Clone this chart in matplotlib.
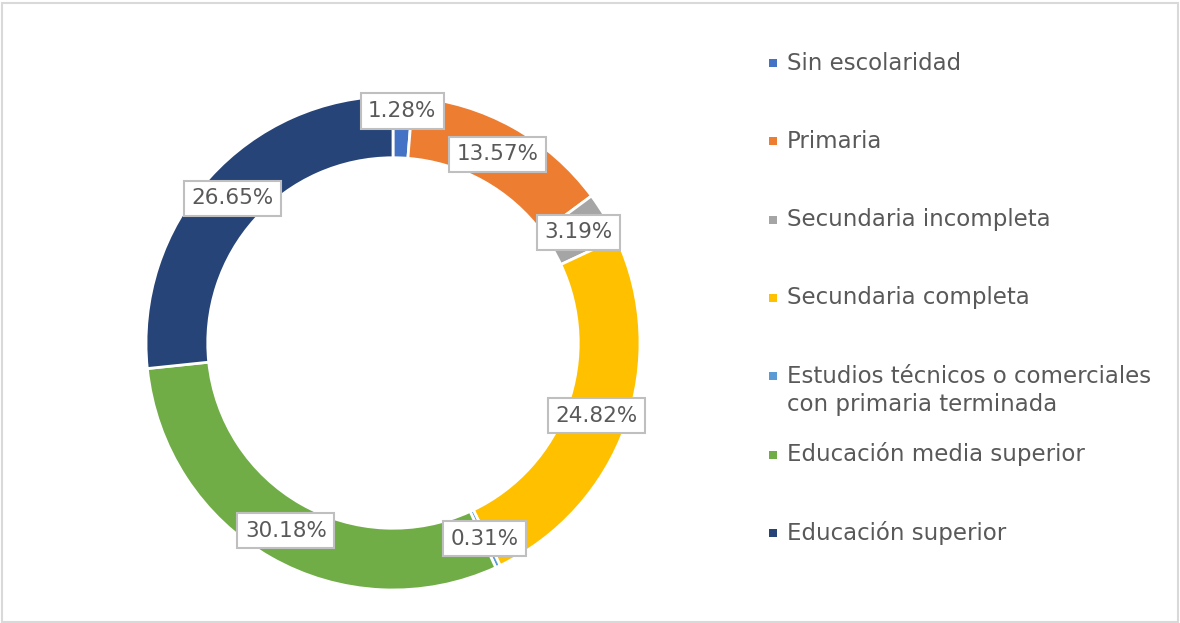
import numpy as np
import matplotlib.pyplot as plt
from matplotlib.patches import Rectangle

# data
categories = ['Sin escolaridad', 'Primaria', 'Secundaria incompleta',
              'Secundaria completa',
              'Estudios técnicos o comerciales\ncon primaria terminada',
              'Educación media superior', 'Educación superior']
values = [1.28, 13.57, 3.19, 24.82, 0.31, 30.18, 26.65]
colors = ['#4472C4', '#ED7D31', '#A5A5A5', '#FFC000', '#5B9BD5', '#70AD47', '#264478']

TXT = '#595959'
plt.rcParams['font.family'] = ['DejaVu Sans']

W, H = 1180, 623
fig = plt.figure(figsize=(W / 100, H / 100), dpi=100)

# outer frame
fig.add_artist(Rectangle((1.5 / W, 1.5 / H), 1 - 4 / W, 1 - 4 / H, transform=fig.transFigure,
                         fill=False, edgecolor='#D9D9D9', linewidth=1.5))

# donut axes, centre at pixel (393, 343), outer radius 247 px
cx, cy, R, half = 393, 343, 247, 260
ax = fig.add_axes([(cx - half) / W, (H - cy - half) / H, 2 * half / W, 2 * half / H])

wedges, _ = ax.pie(values, colors=colors, startangle=90, counterclock=False, radius=1.0,
                   wedgeprops=dict(width=0.25, edgecolor='white', linewidth=2))
ax.set_xlim(-half / R, half / R)
ax.set_ylim(-half / R, half / R)
ax.set_aspect('equal')
ax.axis('off')

# data labels on the ring
label_r = [0.94, 0.875, 0.875, 0.875, 0.875, 0.875, 0.875]
for w, v, r in zip(wedges, values, label_r):
    ang = np.deg2rad((w.theta1 + w.theta2) / 2)
    ax.text(r * np.cos(ang), r * np.sin(ang), f'{v:.2f}%', ha='center', va='center',
            fontsize=15.5, color=TXT,
            bbox=dict(boxstyle='square,pad=0.35', facecolor='white', edgecolor='#BFBFBF', linewidth=1.5))

# legend drawn by hand
ly0, lstep, lline = 63, 78.3, 28
for i, (lab, c) in enumerate(zip(categories, colors)):
    y = ly0 + i * lstep
    fig.add_artist(Rectangle((769 / W, (H - y - 4) / H), 8 / W, 8 / H,
                             transform=fig.transFigure, facecolor=c, edgecolor='none'))
    for j, line in enumerate(lab.split('\n')):
        fig.text(787 / W, 1 - (y + j * lline) / H, line, ha='left', va='center',
                 fontsize=16.5, color=TXT)

fig.savefig('out.png', dpi=100)
